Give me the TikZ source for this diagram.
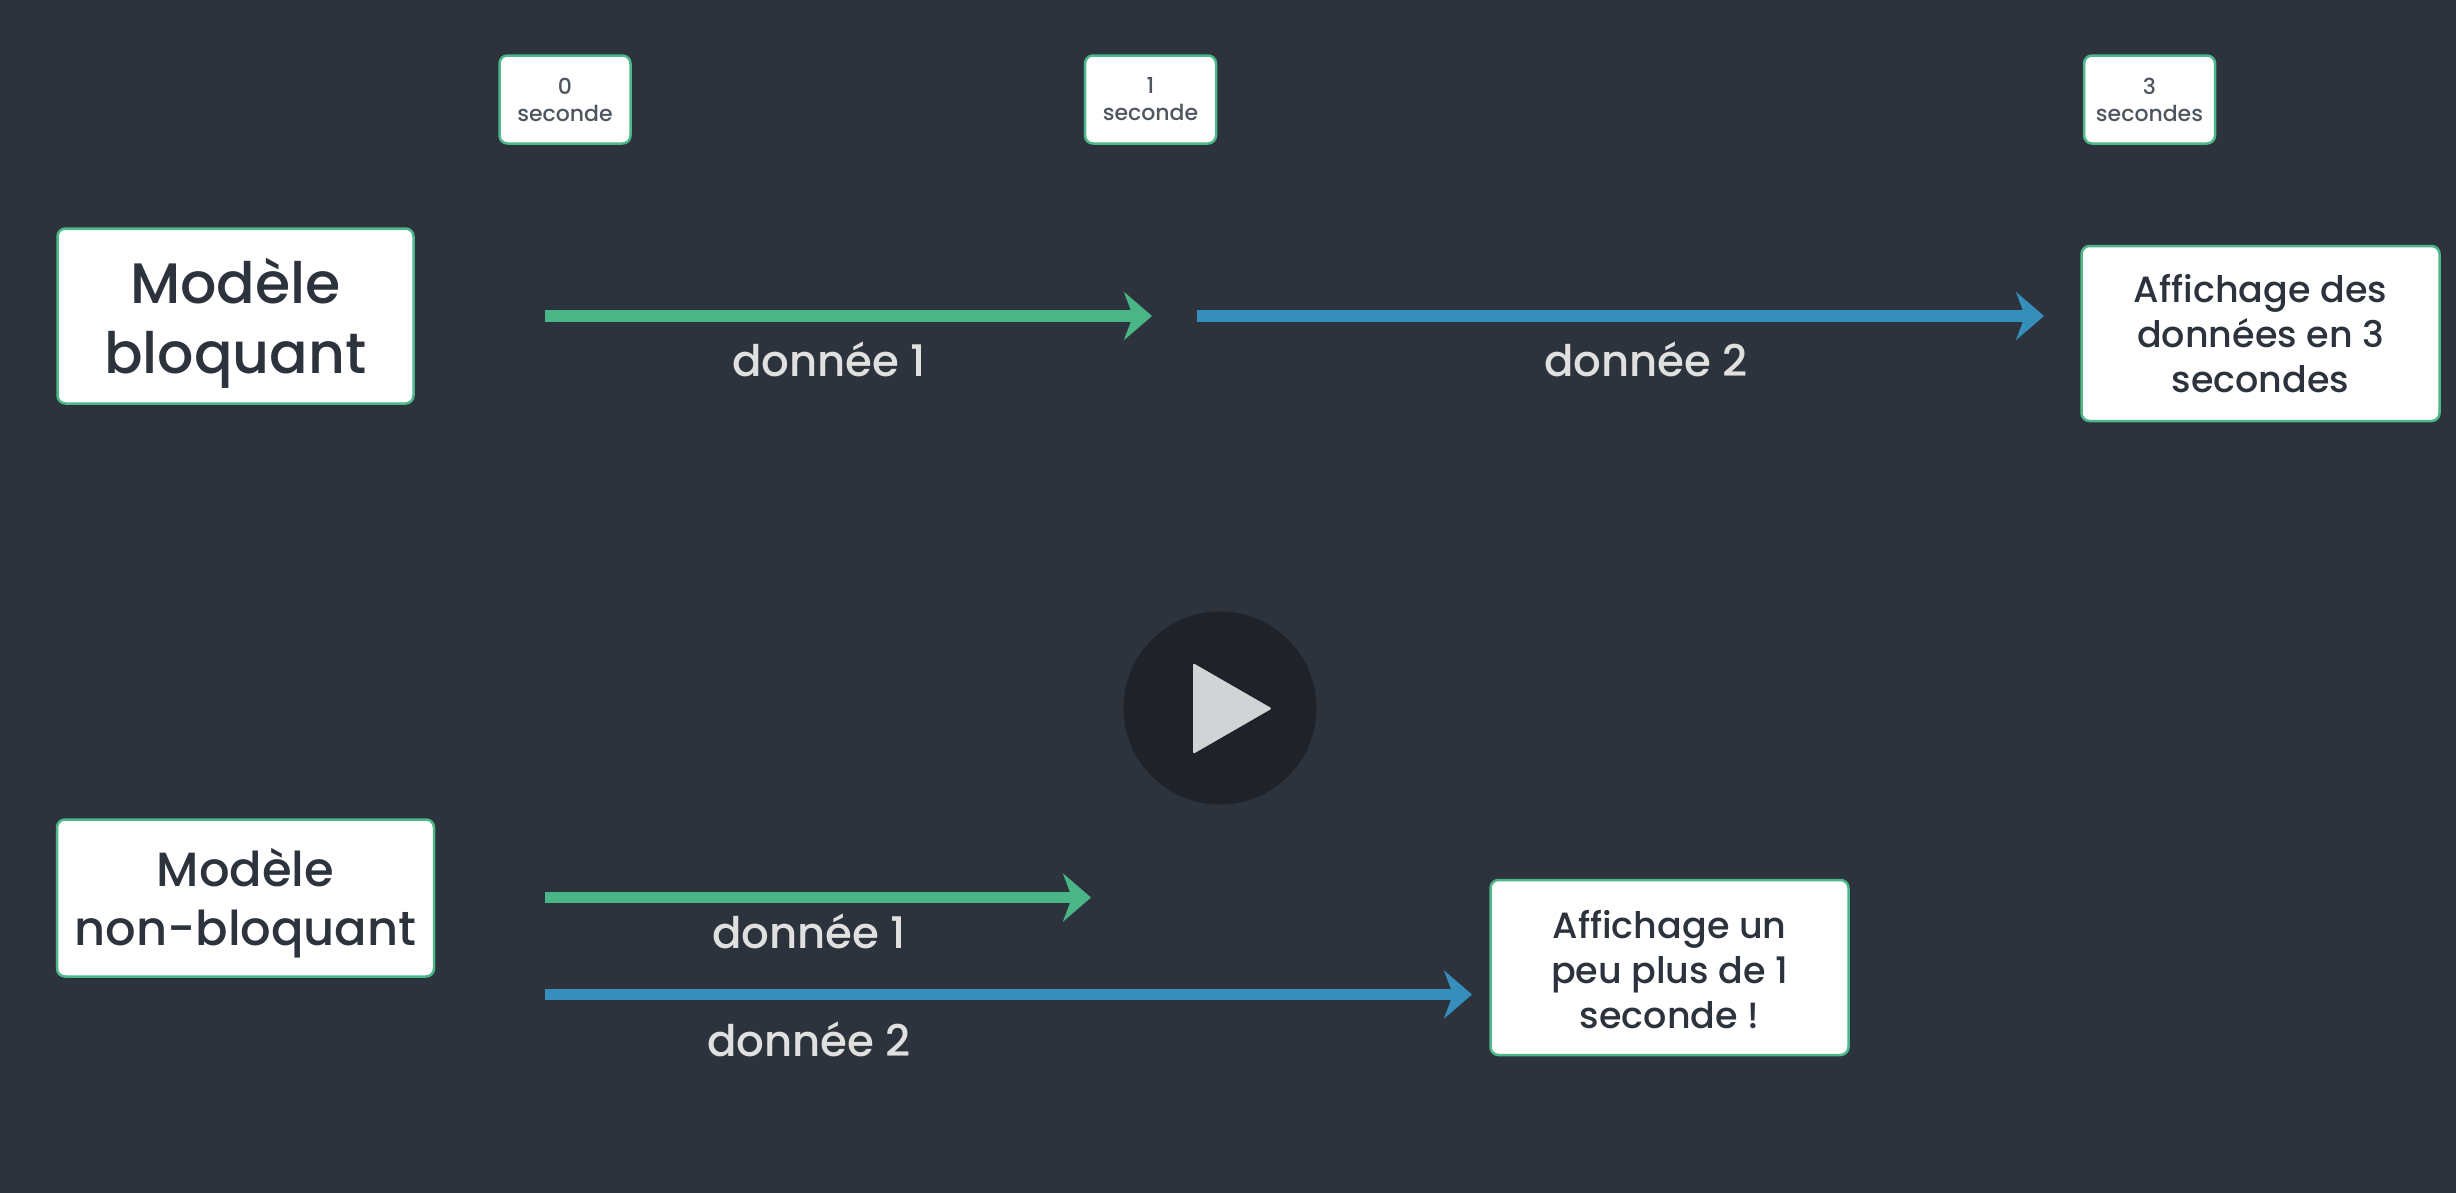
\documentclass[tikz,border=0pt]{standalone}
\usepackage{fontspec}
\setmainfont{Poppins}[UprightFont=* Medium]
\usetikzlibrary{arrows.meta}
\definecolor{bgc}{HTML}{2D333D}
\definecolor{inkc}{HTML}{2D333D}
\definecolor{tickc}{HTML}{50565F}
\definecolor{edgec}{HTML}{4DB78A}
\definecolor{greenc}{HTML}{4AB688}
\definecolor{bluec}{HTML}{358FBA}
\definecolor{labelc}{HTML}{E0E0DF}
\definecolor{discc}{HTML}{1F2228}
\definecolor{playc}{HTML}{D2D3D5}
\newcommand{\fs}[2]{\fontsize{#1}{#2}\selectfont}
\newcommand{\dn}[1]{\rule{0pt}{#1pt}}
\tikzset{
  x=1pt,y=-1pt,
  card/.style={draw=edgec,line width=2.5pt,fill=white,rounded corners=8pt,align=center,text=inkc,inner sep=0pt,anchor=center},
  tick/.style={card,text=tickc,minimum width=131pt,minimum height=88pt,font=\fs{22}{27}},
  main/.style={card,minimum width=356pt,minimum height=175pt,font=\fs{57}{70}},
  mainb/.style={card,minimum width=377pt,minimum height=157pt,font=\fs{48}{59}},
  result/.style={card,minimum width=358pt,minimum height=175pt,font=\fs{36.5}{45}},
  lab/.style={text=labelc,font=\fs{43.5}{47},inner sep=0pt,anchor=center},
  arr/.style={line width=11.5pt,-{Stealth[length=28pt,width=48pt,inset=9pt]}},
}
\begin{document}
\begin{tikzpicture}
\useasboundingbox (0,0) rectangle (2456,1192);
\fill[bgc] (-5,-5) rectangle (2461,1197);
\node[tick] (t0) at (565,99.5) {0\\seconde};
\node[tick] (t1) at (1150.5,99.5) {1\\seconde};
\node[tick] (t3) at (2149.5,99.5) {3\\secondes};
\node[main] (m1) at (235.5,316) {\dn{60}Modèle\\bloquant};
\node[mainb] (m2) at (245.5,898) {\dn{48}Modèle\\non-bloquant};
\node[result] (r1) at (2260.5,333.5) {\dn{28}Affichage des\\données en 3\\secondes};
\node[result] (r2) at (1669.5,967.5) {\dn{32}Affichage un\\peu plus de 1\\seconde !};
\coordinate (g1a) at (545,316);
\coordinate (g1b) at (1152,316);
\coordinate (b1a) at (1197,316);
\coordinate (b1b) at (2044,316);
\coordinate (g2a) at (545,897.5);
\coordinate (g2b) at (1091,897.5);
\coordinate (b2a) at (545,994.5);
\coordinate (b2b) at (1472,994.5);
\draw[arr,greenc] (g1a) -- (g1b);
\draw[arr,bluec] (b1a) -- (b1b);
\draw[arr,greenc] (g2a) -- (g2b);
\draw[arr,bluec] (b2a) -- (b2b);
\node[lab] (l1) at (829,359) {donnée 1};
\node[lab] (l2) at (1646,359) {donnée 2};
\node[lab] (l3) at (809,931) {donnée 1};
\node[lab] (l4) at (809,1039) {donnée 2};
\node[circle,fill=discc,minimum size=193pt,inner sep=0pt] (disc) at (1220,708) {};
\fill[playc,rounded corners=1.5pt] (1193,663) -- (1272,708.5) -- (1193,754) -- cycle;
\end{tikzpicture}
\end{document}
